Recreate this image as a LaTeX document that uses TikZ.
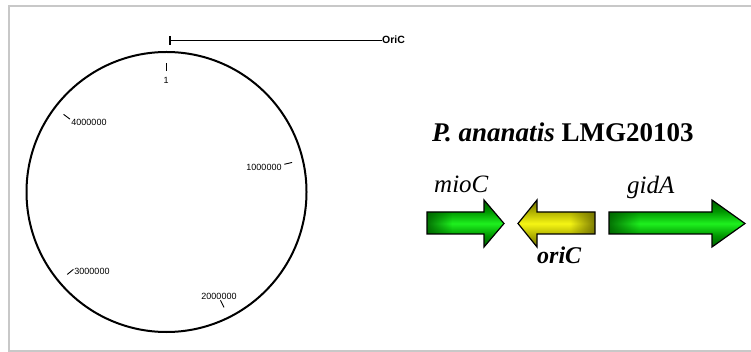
\documentclass[tikz,border=0pt]{standalone}
\usepackage{fontspec}
\setmainfont{Liberation Serif}
\setsansfont{Liberation Sans}
\usetikzlibrary{fadings,calc}

\definecolor{framegray}{RGB}{200,200,200}
\definecolor{gdark}{RGB}{0,95,0}
\definecolor{gedge}{RGB}{0,150,0}
\definecolor{gbright}{RGB}{30,240,30}
\definecolor{ydark}{RGB}{105,105,0}
\definecolor{yedge}{RGB}{175,175,0}
\definecolor{ybright}{RGB}{245,245,20}

% band shadings: dark rim, bright centre line
\pgfdeclareverticalshading{greenband}{100bp}{color(0bp)=(gdark); color(25bp)=(gdark); color(37bp)=(gedge); color(50bp)=(gbright); color(63bp)=(gedge); color(75bp)=(gdark); color(100bp)=(gdark)}
\pgfdeclareverticalshading{yellowband}{100bp}{color(0bp)=(ydark); color(25bp)=(ydark); color(37bp)=(yedge); color(50bp)=(ybright); color(63bp)=(yedge); color(75bp)=(ydark); color(100bp)=(ydark)}

\tikzfading[name=fadeR, left color=transparent!0, right color=transparent!100]
\tikzfading[name=fadeL, left color=transparent!100, right color=transparent!0]

\tikzset{
  frame/.style={draw=framegray, line width=2},
  genomering/.style={circle, draw, line width=2, minimum size=280, inner sep=0},
  tickmark/.style={line width=0.9},
  poslabel/.style={font=\sffamily\fontsize{9}{10}\selectfont, inner sep=0},
  gene/.style={draw=black, line width=1.2, line join=miter},
  genename/.style={font=\fontsize{25}{28}\selectfont\itshape, inner sep=0, anchor=base west},
}

\begin{document}
\begin{tikzpicture}[x=1pt, y=-1pt]
\useasboundingbox (0,0) rectangle (751,352);

% outer frame
\draw[frame] (753,6) -- (9,6) -- (9,351) -- (753,351);

% circular genome map
\node[genomering] (genome) at (166.5,192) {};
\foreach \p in {0,1,2,3,4}{
  \pgfmathsetmacro\ang{\p*360/4.69}
  \draw[tickmark] ($(genome.center)+({121*sin(\ang)},{-121*cos(\ang)})$)
               -- ($(genome.center)+({129*sin(\ang)},{-129*cos(\ang)})$);
}
\node[poslabel] (p1) at (166,80) {1};
\node[poslabel] (p1m) at (264,167) {1000000};
\node[poslabel] (p2m) at (219,296) {2000000};
\node[poslabel] (p3m) at (92,271) {3000000};
\node[poslabel] (p4m) at (89,122) {4000000};

% origin marker
\coordinate (oribar) at (170,40);
\node[font=\sffamily\bfseries\fontsize{10.5}{12}\selectfont, inner sep=0, anchor=west] (oric) at (382,40) {OriC};
\draw[line width=1.4] ($(oribar)+(0,-4)$) -- ($(oribar)+(0,5)$);
\draw[line width=0.9] (oribar) -- (oric.west);

% title
\node[font=\fontsize{27}{30}\selectfont\bfseries, inner sep=0, anchor=base west] (title) at (432,142) {\textit{P. ananatis} LMG20103};

% mioC
\shade[shading=greenband] (427,212) -- (484,212) -- (484,200) -- (504,223.5) -- (484,247) -- (484,234) -- (427,234) -- cycle;
\fill[gdark, path fading=fadeR, opacity=0.85] (427,212) rectangle (452,234);
\draw[gene] (427,212) -- (484,212) -- (484,200) -- (504,223.5) -- (484,247) -- (484,234) -- (427,234) -- cycle;
\node[genename] (mioC) at (434,193) {mioC};

% oriC
\shade[shading=yellowband] (595,212) -- (537,212) -- (537,200) -- (518,223.5) -- (537,247) -- (537,234) -- (595,234) -- cycle;
\fill[ydark, path fading=fadeL, opacity=0.85] (570,212) rectangle (595,234);
\draw[gene] (595,212) -- (537,212) -- (537,200) -- (518,223.5) -- (537,247) -- (537,234) -- (595,234) -- cycle;
\node[genename, font=\fontsize{24}{28}\selectfont\bfseries\itshape] (oriC) at (537,263) {oriC};

% gidA
\shade[shading=greenband] (609,212) -- (712,212) -- (712,200) -- (745,223.5) -- (712,247) -- (712,234) -- (609,234) -- cycle;
\fill[gdark, path fading=fadeR, opacity=0.85] (609,212) rectangle (640,234);
\draw[gene] (609,212) -- (712,212) -- (712,200) -- (745,223.5) -- (712,247) -- (712,234) -- (609,234) -- cycle;
\node[genename] (gidA) at (627,194) {gidA};

\end{tikzpicture}
\end{document}
